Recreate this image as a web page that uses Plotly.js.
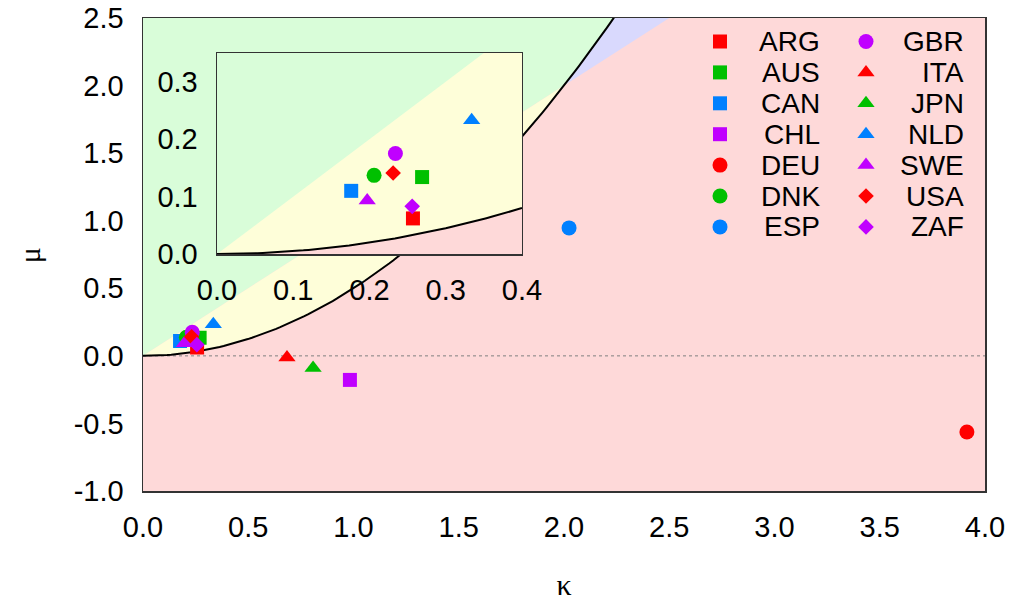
<!DOCTYPE html>
<html>
<head>
<meta charset="utf-8">
<script src="https://cdn.plot.ly/plotly-3.0.1.min.js"></script>
<style>html,body{margin:0;padding:0;background:#fff;}#chart{width:1013px;height:606px;}</style>
</head>
<body>
<div id="chart"></div>
<script>
// ---------- data ----------
const countries = ["ARG","AUS","CAN","CHL","DEU","DNK","ESP","GBR","ITA","JPN","NLD","SWE","USA","ZAF"];
const kappa     = [0.257, 0.269, 0.176, 0.983, 3.914, 0.206, 2.024, 0.234, 0.684, 0.808, 0.334, 0.197, 0.231, 0.256];
const mu        = [0.062, 0.134, 0.110, -0.178, -0.563, 0.137, 0.947, 0.175, -0.013, -0.089, 0.233, 0.093, 0.141, 0.083];

// tick labels
const xTickVals  = [0, 0.5, 1, 1.5, 2, 2.5, 3, 3.5, 4];
const xTickText  = ["0.0","0.5","1.0","1.5","2.0","2.5","3.0","3.5","4.0"];
const yTickVals  = [-1, -0.5, 0, 0.5, 1, 1.5, 2, 2.5];
const yTickText  = ["-1.0","-0.5","0.0","0.5","1.0","1.5","2.0","2.5"];
const ixTickVals = [0, 0.1, 0.2, 0.3, 0.4];
const ixTickText = ["0.0","0.1","0.2","0.3","0.4"];
const iyTickVals = [0, 0.1, 0.2, 0.3];
const iyTickText = ["0.0","0.1","0.2","0.3"];
const xTitle = "κ", yTitle = "μ";

// ---------- styles ----------
const RED = "#ff0000", GREEN = "#00c000", BLUE = "#0080ff", PURPLE = "#c000ff";
const style = {
  ARG:{s:"square",c:RED}, AUS:{s:"square",c:GREEN}, CAN:{s:"square",c:BLUE}, CHL:{s:"square",c:PURPLE},
  DEU:{s:"circle",c:RED}, DNK:{s:"circle",c:GREEN}, ESP:{s:"circle",c:BLUE}, GBR:{s:"circle",c:PURPLE},
  ITA:{s:"triangle-up",c:RED}, JPN:{s:"triangle-up",c:GREEN}, NLD:{s:"triangle-up",c:BLUE}, SWE:{s:"triangle-up",c:PURPLE},
  USA:{s:"diamond",c:RED}, ZAF:{s:"diamond",c:PURPLE}
};
const symSize = {"square":14, "circle":15, "triangle-up":15, "diamond":12};
const FILL = {green:"#d9fdd9", yellow:"#fefed9", blue:"#d9d9fd", red:"#fed9d9"};
const TICKFONT = {family:"Liberation Sans, Arial, sans-serif", size:29, color:"#000"};
const TITLEFONT = {family:"Liberation Serif, Times New Roman, serif", size:30, color:"#000"};

// ---------- analytic region boundaries: mu = kappa^2/2 and mu = kappa ----------
function curve(k0, k1, n) {
  const xs = [], ys = [];
  for (let i = 0; i <= n; i++) { const k = k0 + (k1 - k0) * i / n; xs.push(k); ys.push(k * k / 2); }
  return {x: xs, y: ys};
}
const kTop = Math.sqrt(5); // where kappa^2/2 reaches 2.5
const traces = [];
function poly(x, y, color, xa, ya) {
  traces.push({x: x, y: y, xaxis: xa, yaxis: ya, mode: "lines", fill: "toself", fillcolor: color,
               line: {width: 0, color: color}, hoverinfo: "skip", showlegend: false});
}
// main regions
{
  const c02 = curve(0, 2, 80), c2t = curve(2, kTop, 20);
  poly([0, 4, 4, 0], [-1, -1, 2.5, 2.5], FILL.red, "x", "y");
  poly([0, 2].concat(c2t.x, [0]), [0, 2].concat(c2t.y, [2.5]), FILL.green, "x", "y");
  poly([0, 2].concat(c02.x.slice().reverse()), [0, 2].concat(c02.y.slice().reverse()), FILL.yellow, "x", "y");
  poly(c2t.x.concat([2.5]), c2t.y.concat([2.5]), FILL.blue, "x", "y");
}
// zero reference (dotted)
traces.push({x: [0, 4], y: [0, 0], xaxis: "x", yaxis: "y", mode: "lines",
             line: {color: "#808080", width: 1, dash: "dot"}, hoverinfo: "skip", showlegend: false});
// main boundary curve
{
  const c = curve(0, 2.3, 120);
  traces.push({x: c.x, y: c.y, xaxis: "x", yaxis: "y", mode: "lines", line: {color: "#000", width: 2},
               hoverinfo: "skip", showlegend: false});
}
// main points
countries.forEach((name, i) => {
  const st = style[name];
  traces.push({x: [kappa[i]], y: [mu[i]], xaxis: "x", yaxis: "y", mode: "markers", name: name, showlegend: false,
               marker: {symbol: st.s, color: st.c, size: symSize[st.s], opacity: 1, line: {width: 0}}});
});
// inset regions
{
  const ci = curve(0, 0.4, 60);
  poly([0, 0.35, 0], [0, 0.35, 0.35], FILL.green, "x2", "y2");
  poly([0, 0.35, 0.4].concat(ci.x.slice().reverse()), [0, 0.35, 0.35].concat(ci.y.slice().reverse()), FILL.yellow, "x2", "y2");
  poly(ci.x.concat([0.4]), ci.y.concat([0]), FILL.red, "x2", "y2");
  traces.push({x: ci.x, y: ci.y, xaxis: "x2", yaxis: "y2", mode: "lines", line: {color: "#000", width: 2},
               hoverinfo: "skip", showlegend: false});
}
countries.forEach((name, i) => {
  const st = style[name];
  traces.push({x: [kappa[i]], y: [mu[i]], xaxis: "x2", yaxis: "y2", mode: "markers", name: name, showlegend: false,
               marker: {symbol: st.s, color: st.c, size: symSize[st.s], opacity: 1, line: {width: 0}}});
});

// ---------- manual two-column legend (x3/y3 in pixel units of the plot area) ----------
const L = {markerX: [720, 866], textRight: [822, 966], rowTop: 41.5, rowStep: 30.9, perCol: 7};
const annotations = [];
{
  const lx = [], ly = [], lc = [], ls = [], lz = [];
  countries.forEach((name, i) => {
    const col = Math.floor(i / L.perCol), row = i % L.perCol;
    const yy = L.rowTop + row * L.rowStep;
    const st = style[name];
    lx.push(L.markerX[col]); ly.push(yy); lc.push(st.c); ls.push(st.s); lz.push(symSize[st.s]);
    annotations.push({xref: "x3", yref: "y3", x: L.textRight[col], y: yy, text: name, showarrow: false,
                      xanchor: "right", yanchor: "middle", font: {family: TICKFONT.family, size: 28, color: "#000"}});
  });
  traces.push({x: lx, y: ly, xaxis: "x3", yaxis: "y3", mode: "markers", showlegend: false, hoverinfo: "skip",
               marker: {symbol: ls, color: lc, size: lz, opacity: 1, line: {width: 0}}});
}
// y-axis title placed as a rotated annotation (paper units)
annotations.push({xref: "paper", yref: "paper", x: -0.134, y: 0.499, text: yTitle, textangle: -90, showarrow: false,
                  xanchor: "center", yanchor: "middle", font: TITLEFONT});

const frame = {showline: true, mirror: true, linecolor: "#333", linewidth: 1.5, ticks: "", showgrid: false, zeroline: false};
const layout = {
  width: 1013, height: 606,
  margin: {l: 143, r: 28, t: 18, b: 115},
  paper_bgcolor: "#fff", plot_bgcolor: "rgba(0,0,0,0)",
  showlegend: false,
  xaxis: Object.assign({}, frame, {range: [0, 4], tickmode: "array", tickvals: xTickVals, ticktext: xTickText,
         tickfont: TICKFONT, ticklabelstandoff: 10,
         title: {text: xTitle, font: TITLEFONT, standoff: 31}}),
  yaxis: Object.assign({}, frame, {range: [-1, 2.5], tickmode: "array", tickvals: yTickVals, ticktext: yTickText,
         tickfont: TICKFONT, ticklabelstandoff: 12}),
  xaxis2: Object.assign({}, frame, {domain: [0.0879, 0.4501], anchor: "y2", range: [0, 0.4], tickmode: "array",
         tickvals: ixTickVals, ticktext: ixTickText, tickfont: TICKFONT, ticklabelstandoff: 10}),
  yaxis2: Object.assign({}, frame, {domain: [0.501, 0.926], anchor: "x2", range: [0, 0.35], tickmode: "array",
         tickvals: iyTickVals, ticktext: iyTickText, tickfont: TICKFONT, ticklabelstandoff: 12}),
  xaxis3: {domain: [0, 1], anchor: "y3", range: [143, 985], visible: false, fixedrange: true},
  yaxis3: {domain: [0, 1], anchor: "x3", range: [491, 18], visible: false, fixedrange: true},
  annotations: annotations
};
Plotly.newPlot("chart", traces, layout, {staticPlot: true, displayModeBar: false});
</script>
</body>
</html>
